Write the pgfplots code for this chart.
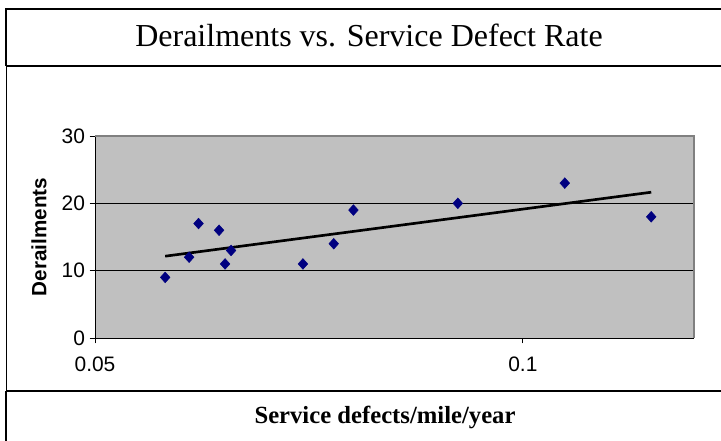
\documentclass[border=0pt]{standalone}
\usepackage{pgfplots}
\pgfplotsset{compat=1.18}
\usepackage{fontspec}
\setmainfont{Liberation Serif}
\newfontfamily\arial{Liberation Sans}
\definecolor{plotbg}{RGB}{192,192,192}
\definecolor{bordgray}{RGB}{128,128,128}
\definecolor{navy}{RGB}{0,0,128}
\begin{document}
\begin{tikzpicture}[x=0.75pt,y=0.75pt]
\useasboundingbox (0,0) rectangle (721,441);
\fill[white] (0,0) rectangle (721,441);
% frames
\draw[line width=1.5pt] (6,432) -- (722,432);
\draw[line width=1.5pt] (6,375) -- (722,375);
\draw[line width=1.5pt] (6,50) -- (722,50);
\draw[line width=1.5pt] (6,432.75) -- (6,375);
\draw[line width=0.75pt] (6,375) -- (6,50);
\draw[line width=1.5pt] (6,50) -- (6,-1);
% texts
\node[anchor=base, font=\fontsize{24}{28}\selectfont] at (369,394) {Derailments vs. Service Defect Rate};
\node[anchor=base, font=\bfseries\fontsize{18.5}{22}\selectfont] at (385,17) {Service defects/mile/year};
\node[font=\arial\bfseries\fontsize{15.5}{18}\selectfont, rotate=90] at (39,204) {Derailments};
\begin{axis}[
  at={(71.25pt,77.25pt)}, anchor=south west,
  scale only axis, width=449.25pt, height=151.5pt,
  xmin=0.05, xmax=0.12, ymin=0, ymax=30,
  xtick={0.05,0.1}, xticklabels={0.05,0.1},
  ytick={0,10,20,30},
  axis x line*=bottom, axis y line*=left,
  axis line style={black, line width=0.6pt, -},
  tick align=outside, major tick length=4pt,
  tick style={black, line width=0.6pt},
  ymajorgrids, grid style={black, line width=0.6pt},
  axis background/.style={fill=plotbg},
  /pgf/number format/assume math mode=true,
  ticklabel style={font=\arial\fontsize{15.7}{18}\selectfont},
  xticklabel style={yshift=-6.5pt},
  yticklabel style={xshift=0pt},
  clip=false,
]
\draw[bordgray, line width=1.2pt] (rel axis cs:0,1) -- (rel axis cs:1,1) -- (rel axis cs:1,0);
\addplot[only marks, mark=diamond*, mark size=4pt, mark options={fill=navy, draw=navy, xscale=1.2}]
coordinates {
(0.0582,9) (0.0610,12) (0.0621,17) (0.0645,16) (0.0652,11) (0.0659,13)
(0.0743,11) (0.0779,14) (0.0802,19) (0.0924,20) (0.1049,23) (0.1150,18)
};
\addplot[black, line width=2pt] coordinates {(0.0582,12.15) (0.1150,21.65)};
\end{axis}
\end{tikzpicture}
\end{document}
